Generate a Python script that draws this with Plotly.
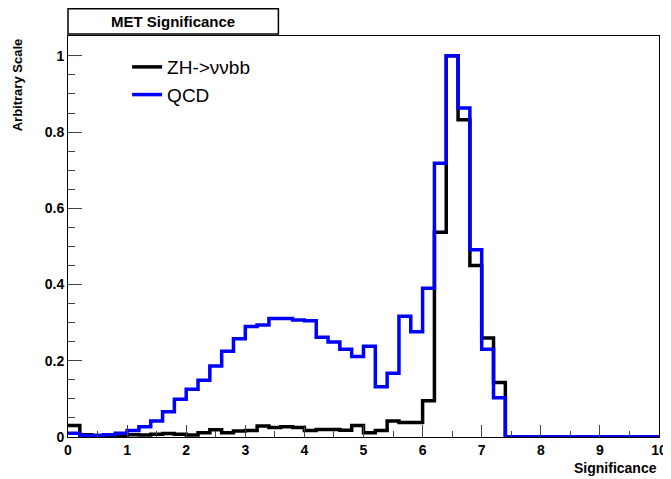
import numpy as np
import plotly.graph_objects as go

# bin edges 0..10 in steps of 0.2
edges = [round(0.2 * i, 1) for i in range(51)]

qcd = [0.010, 0.004, 0.004, 0.006, 0.010, 0.017, 0.027, 0.042, 0.066, 0.099,
       0.125, 0.149, 0.186, 0.225, 0.258, 0.290, 0.294, 0.311, 0.311, 0.307,
       0.305, 0.262, 0.249, 0.230, 0.211, 0.238, 0.132, 0.167, 0.317, 0.276,
       0.390, 0.718, 1.000, 0.863, 0.491, 0.230, 0.103, 0, 0, 0,
       0, 0, 0, 0, 0, 0, 0, 0, 0, 0]

zh = [0.030, 0.006, 0.004, 0.004, 0.004, 0.006, 0.005, 0.007, 0.009, 0.007,
      0.005, 0.011, 0.019, 0.011, 0.016, 0.017, 0.029, 0.025, 0.027, 0.025,
      0.017, 0.020, 0.020, 0.018, 0.030, 0.011, 0.017, 0.042, 0.038, 0.038,
      0.095, 0.537, 1.000, 0.832, 0.450, 0.260, 0.143, 0, 0, 0,
      0, 0, 0, 0, 0, 0, 0, 0, 0, 0]

font = dict(family="Liberation Sans", size=13, color="black")

fig = go.Figure()
fig.add_trace(go.Scatter(x=edges, y=zh + [zh[-1]], mode="lines", line_shape="hv",
                         line=dict(color="black", width=3.5), name="ZH->\u03bd\u03bdbb"))
fig.add_trace(go.Scatter(x=edges, y=qcd + [qcd[-1]], mode="lines", line_shape="hv",
                         line=dict(color="#0000ff", width=3.5), name="QCD"))

fig.update_layout(
    width=671, height=471,
    margin=dict(l=60, r=13, t=28, b=42),
    paper_bgcolor="white", plot_bgcolor="white",
    font=font,
    showlegend=True,
    legend=dict(x=0.1, y=0.97, xanchor="left", yanchor="top", bgcolor="rgba(0,0,0,0)",
                font=dict(family="Liberation Sans", size=19, color="black")),
)
fig.update_xaxes(range=[0, 10], showline=True, linecolor="black", linewidth=1, mirror=True,
                 ticks="inside", ticklen=12, tickwidth=1, dtick=1, showgrid=False, zeroline=False,
                 tickfont=dict(family="Liberation Sans", size=14, color="black", weight="bold"),
                 minor=dict(ticks="inside", ticklen=6, dtick=0.5))
fig.update_yaxes(range=[0, 1.052], showline=True, linecolor="black", linewidth=1, mirror=True,
                 ticks="inside", ticklen=14, tickwidth=1, showgrid=False, zeroline=False,
                 tickfont=dict(family="Liberation Sans", size=14, color="black", weight="bold"),
                 tickvals=[0, 0.2, 0.4, 0.6, 0.8, 1], ticktext=["0", "0.2", "0.4", "0.6", "0.8", "1"],
                 minor=dict(ticks="inside", ticklen=7, dtick=0.05))

fig.add_annotation(text="<b>Significance</b>", xref="paper", yref="paper", x=1.0, y=-0.078,
                   xanchor="right", yanchor="middle", showarrow=False,
                   font=dict(family="Liberation Sans", size=14, color="black"))
fig.add_annotation(text="<b>Arbitrary Scale</b>", xref="paper", yref="paper", x=-0.085, y=1.0,
                   xanchor="center", yanchor="top", textangle=-90, showarrow=False,
                   font=dict(family="Liberation Sans", size=13, color="black"))

# cut-off red title fragment
fig.add_shape(type="line", xref="paper", yref="paper", x0=0.261, x1=0.261, y0=1.05, y1=1.12,
              line=dict(color="red", width=3))
# title box
fig.add_shape(type="rect", xref="paper", yref="paper", x0=0.0, x1=0.356, y0=1.005, y1=1.068,
              line=dict(color="black", width=1.5), fillcolor="white")
fig.add_annotation(text="<b>MET Significance</b>", xref="paper", yref="paper", x=0.178, y=1.036,
                   xanchor="center", yanchor="middle", showarrow=False,
                   font=dict(family="Liberation Sans", size=15, color="black"))

fig.write_html("out.html")
